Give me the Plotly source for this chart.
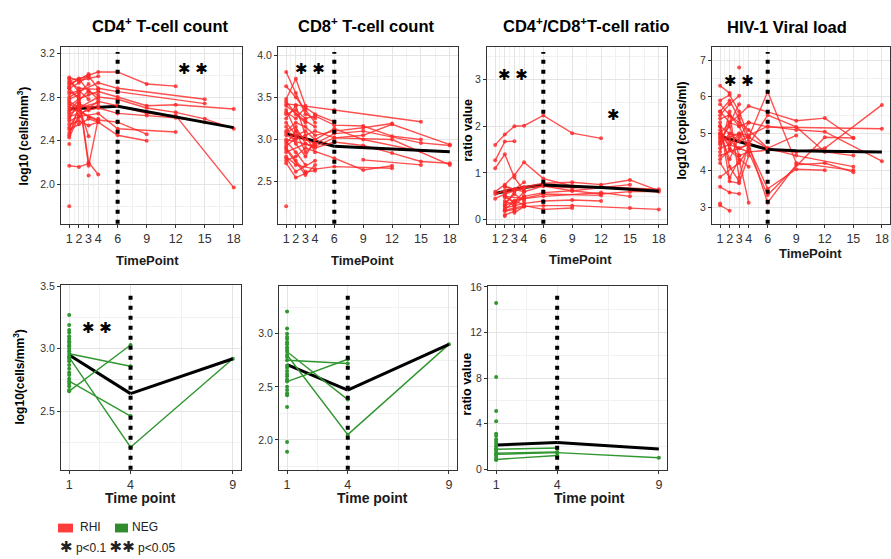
import plotly.graph_objects as go

# ---------------------------------------------------------------- data
# Top row: RHI group, one list per subject (time points in months)
cd4_rhi_t = [
    [1, 2, 3, 4, 6, 9, 12], [1, 2, 4, 6, 15], [1, 3, 4, 6, 15],
    [1, 2, 3, 4, 6, 9, 12, 18], [1, 2, 4, 6, 9, 12, 15, 18], [1, 2, 3, 4, 6, 9, 12, 18],
    [1, 3, 4, 6, 9, 12, 15], [1, 2, 4, 6, 12], [1, 2, 3, 4, 6, 9], [1, 4, 6, 9],
    [1, 2, 3, 4], [1, 2, 3], [1, 2, 3, 4], [1, 2, 3, 4], [1, 2, 3], [1, 2, 3, 4],
    [1, 2, 4], [1, 3, 4], [1, 2], [1, 2, 3], [1], [1], [3], [1, 2, 3, 4],
    [1, 2, 3, 4], [1, 2, 3], [1, 2, 4], [1, 2], [1, 2], [1, 3, 4], [1, 2, 3], [1, 2],
]
cd4_rhi_v = [
    [2.88, 2.93, 3.00, 3.03, 3.03, 2.92, 2.90], [2.80, 2.85, 2.93, 2.88, 2.78],
    [2.95, 2.99, 2.88, 2.85, 2.74], [2.72, 2.78, 2.82, 2.85, 2.80, 2.72, 2.73, 2.69],
    [2.76, 2.70, 2.80, 2.78, 2.70, 2.66, 2.60, 2.51], [2.66, 2.74, 2.70, 2.76, 2.72, 2.65, 2.63, 1.97],
    [2.62, 2.68, 2.70, 2.65, 2.63, 2.61, 2.57], [2.58, 2.62, 2.65, 2.51, 2.48],
    [2.50, 2.55, 2.60, 2.57, 2.45, 2.40], [2.70, 2.59, 2.57, 2.46],
    [2.98, 2.95, 2.97, 2.99], [2.17, 2.16, 2.19], [2.85, 2.80, 2.17, 2.60],
    [2.78, 2.82, 2.20, 2.09], [2.45, 2.72, 2.44], [2.90, 2.97, 2.85, 2.82],
    [2.93, 2.88, 2.87], [2.68, 2.86, 2.78], [2.60, 2.75], [2.83, 2.86, 2.78],
    [1.80], [2.37], [2.08], [2.47, 2.63, 2.70, 2.72], [2.55, 2.58, 2.54, 2.57],
    [2.92, 2.96, 3.01], [2.64, 2.70, 2.75], [2.88, 2.78], [2.52, 2.68],
    [2.74, 2.62, 2.58], [2.97, 2.84, 2.92], [2.43, 2.62],
]
cd4_mean_t = [1, 2, 3, 4, 6, 9, 12, 15, 18]
cd4_mean_v = [2.69, 2.695, 2.70, 2.705, 2.715, 2.665, 2.615, 2.57, 2.52]

cd8_rhi_t = [
    [1, 2, 6, 15], [1, 2, 3, 4, 6, 9, 12], [1, 2, 3, 4, 6, 9, 12, 15],
    [1, 2, 4, 6, 9, 12, 18], [1, 2, 3, 4, 6, 9, 15, 18], [1, 3, 4, 6, 9, 12, 15, 18],
    [1, 2, 4, 6, 12], [1, 2, 3, 6, 9, 12], [1, 2, 3, 4, 6, 9, 15], [1, 4, 6, 12, 18],
    [9, 15], [1, 2, 3, 4], [1, 2, 3], [1, 2, 3, 4], [1, 2, 3], [1, 2, 3, 4],
    [1, 2, 3, 4], [1, 2, 3, 4], [1, 2, 3], [1], [1, 2, 3, 4], [1, 2, 3],
    [1, 2, 4], [1, 2, 3, 4, 6], [1, 3, 4], [1, 2, 3], [1, 2], [1, 3, 4],
]
cd8_rhi_v = [
    [3.42, 3.41, 3.35, 3.21], [3.10, 3.20, 3.15, 3.05, 3.10, 3.14, 3.19],
    [3.30, 3.35, 3.25, 3.28, 3.17, 3.16, 3.04, 3.00], [3.05, 3.00, 3.10, 3.02, 3.05, 3.18, 2.94],
    [2.95, 3.10, 3.00, 2.95, 3.07, 3.10, 2.96, 2.93], [2.85, 2.95, 2.90, 2.97, 2.93, 2.84, 2.74, 2.72],
    [2.80, 2.70, 2.65, 2.68, 2.66], [2.75, 2.80, 2.90, 2.78, 2.64, 2.69],
    [3.20, 3.05, 3.10, 3.00, 3.13, 3.00, 2.86], [3.00, 2.92, 3.02, 3.00, 2.70],
    [2.76, 2.70], [3.80, 3.55, 3.30, 3.25], [3.48, 3.72, 3.40], [3.63, 3.50, 3.35, 3.20],
    [2.72, 2.55, 2.60], [2.90, 2.75, 2.62, 2.63], [3.25, 3.40, 3.05, 2.85],
    [3.35, 3.10, 2.85, 2.95], [2.98, 2.85, 2.70], [2.21], [3.15, 2.95, 2.80, 3.00],
    [3.45, 3.30, 3.20], [2.78, 2.62, 2.75], [3.32, 3.25, 3.38, 3.30, 3.21],
    [2.88, 2.58, 2.70], [3.08, 3.15, 2.95], [2.92, 3.02], [3.40, 3.22, 3.15],
]
cd8_mean_t = [1, 2, 3, 4, 6, 9, 12, 15, 18]
cd8_mean_v = [3.07, 3.04, 3.01, 2.98, 2.92, 2.905, 2.89, 2.875, 2.855]

ratio_rhi_t = [
    [1, 2, 3, 4, 6, 9, 12], [1, 2, 3], [1, 2, 3, 4], [1, 2, 3, 4, 6, 9],
    [1, 2, 4, 6, 9, 12, 15, 18], [1, 2, 3, 4, 6, 9, 15], [1, 3, 4, 6, 9, 12, 15, 18],
    [1, 2, 4, 6, 9, 12, 18], [1, 2, 3, 4, 6, 12, 15], [1, 2, 3, 4, 6, 9, 12],
    [1, 2, 3, 4, 6, 9, 15, 18], [1, 2, 4, 6, 12], [1, 2, 3, 4, 6, 9],
    [1, 2, 3, 4], [1, 2, 3, 4], [1, 2, 3], [1, 2, 3, 4], [1, 2, 4], [1, 3, 4],
    [1, 2, 3, 4], [1], [1, 2], [1, 2, 3], [1, 2, 3, 4], [1, 2, 3],
]
ratio_rhi_v = [
    [1.60, 1.82, 2.00, 2.01, 2.23, 1.85, 1.74], [1.27, 1.67, 1.68], [1.10, 1.40, 0.90, 0.62],
    [0.60, 0.75, 0.95, 1.23, 0.88, 0.72], [0.55, 0.62, 0.70, 0.78, 0.80, 0.75, 0.85, 0.62],
    [0.45, 0.55, 0.62, 0.68, 0.72, 0.62, 0.75, 0.58], [0.38, 0.50, 0.58, 0.62, 0.55, 0.60, 0.60, 0.55],
    [0.70, 0.60, 0.72, 0.68, 0.70, 0.65, 0.58], [0.30, 0.40, 0.45, 0.50, 0.58, 0.50, 0.65],
    [0.25, 0.30, 0.35, 0.40, 0.42, 0.40, 0.30], [0.18, 0.22, 0.28, 0.30, 0.30, 0.25, 0.22, 0.18],
    [0.50, 0.45, 0.55, 0.52, 0.45], [0.20, 0.25, 0.30, 0.22, 0.25, 0.35],
    [0.72, 0.65, 0.80, 0.88], [0.35, 0.55, 0.40, 0.45], [0.10, 0.18, 0.25],
    [0.40, 0.30, 0.50, 0.60], [0.58, 0.68, 0.72], [0.15, 0.28, 0.20], [0.48, 0.38, 0.60, 0.78],
    [3.33], [0.08, 0.15], [0.30, 0.60, 0.85], [0.22, 0.40, 0.32, 0.55], [0.52, 0.35, 0.45],
]
ratio_mean_t = [1, 2, 3, 4, 6, 9, 12, 15, 18]
ratio_mean_v = [0.56, 0.61, 0.65, 0.69, 0.74, 0.72, 0.69, 0.65, 0.61]

vl_rhi_t = [
    [1, 2, 3, 4, 9, 12, 15], [1, 2, 3, 4, 6, 9, 12, 18], [1, 2, 3, 4, 6, 18],
    [1, 2, 4, 6, 9, 12, 18], [1, 2, 3, 4, 6, 9, 15], [1, 3, 4, 6, 9, 12, 15],
    [1, 2, 3, 4, 6, 9, 12, 15], [1, 2, 3, 6, 9, 12], [1, 2, 4, 6, 9, 15],
    [1, 2, 3, 4, 6, 9], [1, 2, 3, 4, 6, 12, 15], [1, 2], [1, 2, 3], [1, 2],
    [1, 2, 3], [1, 2, 3, 4], [1, 2, 3, 4], [1, 2, 3, 4], [1, 2, 3, 4], [1, 3, 4],
    [1, 2, 3, 4], [1, 2, 3], [1, 2, 3, 4], [1], [1, 2, 4], [1, 2, 3], [1, 2, 3, 4],
    [1, 3], [3],
]
vl_rhi_v = [
    [5.00, 5.30, 5.50, 5.75, 5.35, 5.42, 4.88], [4.80, 4.90, 5.00, 4.95, 5.20, 5.10, 5.05, 4.25],
    [5.40, 5.50, 5.20, 5.30, 5.18, 5.13], [4.60, 4.70, 4.50, 4.55, 4.50, 4.60, 5.78],
    [5.20, 5.00, 4.80, 4.90, 4.60, 4.40, 4.10], [4.40, 4.60, 4.70, 5.50, 5.18, 4.50, 4.40],
    [4.90, 4.80, 4.60, 4.70, 3.12, 4.15, 4.20, 3.95], [5.60, 5.30, 5.20, 3.50, 4.03, 4.00],
    [4.70, 5.00, 4.90, 6.14, 4.20, 4.00], [5.80, 5.50, 5.30, 5.10, 4.60, 4.95],
    [5.10, 4.60, 4.40, 4.50, 3.33, 4.90, 4.88], [6.30, 6.10], [5.50, 5.80, 6.03],
    [3.05, 2.90], [3.55, 3.40, 3.36], [5.30, 3.70, 3.65, 4.40], [4.20, 3.80, 4.30, 3.12],
    [5.90, 6.05, 5.60, 4.90], [4.50, 5.60, 3.80, 4.70], [3.82, 4.20, 4.60],
    [5.00, 4.30, 4.90, 5.30], [4.85, 5.20, 4.40], [5.60, 5.90, 5.40, 4.80], [3.10],
    [4.30, 4.55, 4.10], [5.20, 4.10, 3.70], [4.95, 4.70, 5.00, 4.60], [4.75, 5.80], [6.80],
]
vl_mean_t = [1, 2, 3, 4, 6, 9, 12, 15, 18]
vl_mean_v = [4.92, 4.85, 4.77, 4.69, 4.57, 4.53, 4.52, 4.50, 4.50]

# Bottom row: NEG group, baseline-only values plus subjects with follow-up
cd4_neg_base = [3.27, 3.19, 3.15, 3.13, 3.10, 3.08, 3.06, 3.05, 3.03, 3.02, 3.00, 2.98,
                2.94, 2.92, 2.90, 2.87, 2.84, 2.81, 2.79, 2.76, 2.72, 2.70, 2.67]
cd4_neg_t = [[1, 4], [1, 4], [1, 4], [1, 4, 9]]
cd4_neg_v = [[2.96, 2.86], [2.66, 3.03], [2.74, 2.46], [2.93, 2.21, 2.92]]
cd4_neg_mean_t = [1, 4, 9]
cd4_neg_mean_v = [2.95, 2.64, 2.92]

cd8_neg_base = [3.21, 3.05, 3.00, 2.97, 2.95, 2.92, 2.90, 2.87, 2.85, 2.78, 2.70,
                2.68, 2.65, 2.62, 2.60, 2.57, 2.50, 2.47, 2.44, 2.42, 2.31, 1.98, 1.89]
cd8_neg_t = [[1, 4], [1, 4], [1, 4], [1, 4, 9]]
cd8_neg_v = [[2.83, 2.38], [2.75, 2.72], [2.55, 2.76], [2.80, 2.05, 2.90]]
cd8_neg_mean_t = [1, 4, 9]
cd8_neg_mean_v = [2.71, 2.47, 2.90]

ratio_neg_base = [14.6, 8.1, 5.1, 4.2, 3.1, 2.9, 2.6, 2.4, 2.2, 2.0, 1.8, 1.6,
                  1.2, 1.0, 0.8]
ratio_neg_t = [[1, 4], [1, 4], [1, 4], [1, 4, 9]]
ratio_neg_v = [[1.75, 1.85], [1.40, 1.50], [0.85, 1.20], [1.30, 1.45, 1.00]]
ratio_neg_mean_t = [1, 4, 9]
ratio_neg_mean_v = [2.12, 2.33, 1.77]

TOP_TICKS = [1, 2, 3, 4, 6, 9, 12, 15, 18]
TOP_MINOR = [1.5, 2.5, 3.5, 5, 7.5, 10.5, 13.5, 16.5]
BOT_TICKS = [1, 4, 9]
BOT_MINOR = [2.5, 6.5]
TOP_CUT = 6      # vertical reference line, top row
BOT_CUT = 4      # vertical reference line, bottom row

# ---------------------------------------------------------------- style
W, H = 891, 559
RED = "rgba(255,40,40,0.82)"
GREEN = "rgb(48,150,48)"
FONT = "Liberation Sans, Arial, sans-serif"
TXT = "#333333"

fig = go.Figure()


def join_subjects(ts, vs):
    xs, ys = [], []
    for t, v in zip(ts, vs):
        xs += list(t) + [None]
        ys += list(v) + [None]
    return xs, ys


def add_group(idx, ts, vs, color, mean_t, mean_v, cut, base=None):
    ax = "" if idx == 1 else str(idx)
    xr, yr = "x" + ax, "y" + ax
    # mean curve part before the cut sits below the subject lines
    pre = [i for i, t in enumerate(mean_t) if t <= cut]
    post = [i for i, t in enumerate(mean_t) if t >= cut]
    fig.add_trace(go.Scatter(x=[mean_t[i] for i in pre], y=[mean_v[i] for i in pre],
                             mode="lines", line=dict(color="black", width=3),
                             xaxis=xr, yaxis=yr, showlegend=False, hoverinfo="skip"))
    if base is not None:
        fig.add_trace(go.Scatter(x=[1] * len(base), y=base, mode="markers",
                                 marker=dict(color=color, size=4),
                                 xaxis=xr, yaxis=yr, showlegend=False))
    xs, ys = join_subjects(ts, vs)
    fig.add_trace(go.Scatter(x=xs, y=ys, mode="lines+markers",
                             line=dict(color=color, width=1.4),
                             marker=dict(color=color, size=4),
                             connectgaps=False, xaxis=xr, yaxis=yr, showlegend=False))
    fig.add_trace(go.Scatter(x=[mean_t[i] for i in post], y=[mean_v[i] for i in post],
                             mode="lines", line=dict(color="black", width=3),
                             xaxis=xr, yaxis=yr, showlegend=False, hoverinfo="skip"))
    fig.add_shape(type="line", xref=xr, yref=yr + " domain", x0=cut, x1=cut,
                  y0=0, y1=0.972, line=dict(color="black", width=4, dash="4px,6px"))


add_group(1, cd4_rhi_t, cd4_rhi_v, RED, cd4_mean_t, cd4_mean_v, TOP_CUT)
add_group(2, cd8_rhi_t, cd8_rhi_v, RED, cd8_mean_t, cd8_mean_v, TOP_CUT)
add_group(3, ratio_rhi_t, ratio_rhi_v, RED, ratio_mean_t, ratio_mean_v, TOP_CUT)
add_group(4, vl_rhi_t, vl_rhi_v, RED, vl_mean_t, vl_mean_v, TOP_CUT)
add_group(5, cd4_neg_t, cd4_neg_v, GREEN, cd4_neg_mean_t, cd4_neg_mean_v, BOT_CUT, cd4_neg_base)
add_group(6, cd8_neg_t, cd8_neg_v, GREEN, cd8_neg_mean_t, cd8_neg_mean_v, BOT_CUT, cd8_neg_base)
add_group(7, ratio_neg_t, ratio_neg_v, GREEN, ratio_neg_mean_t, ratio_neg_mean_v, BOT_CUT, ratio_neg_base)


def px_dom_x(a, b):
    return [a / W, b / W]


def px_dom_y(top, bottom):
    return [1 - bottom / H, 1 - top / H]


def axis(dom, rng, ticks, minor, size, labels=None, anchor=None):
    d = dict(domain=dom, range=rng, tickmode="array", tickvals=ticks,
             ticktext=labels if labels is not None else [str(t) for t in ticks],
             showgrid=True, gridcolor="#E4E4E4", gridwidth=1,
             minor=dict(tickvals=minor, showgrid=True, gridcolor="#F1F1F1",
                        gridwidth=1, ticks=""),
             showline=True, mirror=True, linecolor="#333333", linewidth=1,
             ticks="outside", ticklen=3, tickcolor="#333333", tickwidth=1,
             tickfont=dict(family=FONT, size=size, color=TXT),
             zeroline=False, anchor=anchor, fixedrange=True)
    return d


panels = [
    # (x px, y px, x range, y range, y ticks, y labels, y minor)
    ((61, 242), (42, 222), [0.15, 18.85], [1.64, 3.257], [2.0, 2.4, 2.8, 3.2],
     ["2.0", "2.4", "2.8", "3.2"], [1.8, 2.2, 2.6, 3.0]),
    ((278, 458), (42, 222), [0.15, 18.85], [2.005, 4.093], [2.5, 3.0, 3.5, 4.0],
     ["2.5", "3.0", "3.5", "4.0"], [2.25, 2.75, 3.25, 3.75]),
    ((487, 667), (42, 222), [0.15, 18.85], [-0.084, 3.69], [0, 1, 2, 3],
     ["0", "1", "2", "3"], [0.5, 1.5, 2.5, 3.5]),
    ((712, 890), (42, 222), [0.15, 18.85], [2.55, 7.35], [3, 4, 5, 6, 7],
     ["3", "4", "5", "6", "7"], [3.5, 4.5, 5.5, 6.5]),
    ((61, 241), (285, 473), [0.6, 9.4], [2.03, 3.508], [2.5, 3.0, 3.5],
     ["2.5", "3.0", "3.5"], [2.25, 2.75, 3.25]),
    ((279, 457), (286, 473), [0.6, 9.4], [1.72, 3.446], [2.0, 2.5, 3.0],
     ["2.0", "2.5", "3.0"], [1.75, 2.25, 2.75, 3.25]),
    ((488, 667), (286, 473), [0.6, 9.4], [-0.05, 16.05], [0, 4, 8, 12, 16],
     ["0", "4", "8", "12", "16"], [2, 6, 10, 14]),
]

layout = dict(width=W, height=H, margin=dict(l=0, r=0, t=0, b=0),
              paper_bgcolor="white", plot_bgcolor="white", showlegend=False)
for i, (xp, yp, xr, yr, yt, yl, ym) in enumerate(panels, start=1):
    s = "" if i == 1 else str(i)
    top = i <= 4
    layout["xaxis" + s] = axis(px_dom_x(*xp), xr, TOP_TICKS if top else BOT_TICKS,
                               TOP_MINOR if top else BOT_MINOR, 12.5, anchor="y" + s)
    layout["yaxis" + s] = axis(px_dom_y(*yp), yr, yt, ym, 10.5, labels=yl, anchor="x" + s)
fig.update_layout(**layout)


def note(x, y, text, size, bold=False, angle=0, color="black", family=FONT,
         xanchor="center"):
    fig.add_annotation(xref="paper", yref="paper", x=x / W, y=1 - y / H,
                       text=f"<b>{text}</b>" if bold else text, showarrow=False,
                       textangle=angle, xanchor=xanchor, yanchor="middle",
                       font=dict(family=family, size=size, color=color))


# panel titles
note(160, 19, "CD4<sup>+</sup> T-cell count", 16.5, bold=True)
note(366, 19, "CD8<sup>+</sup> T-cell count", 16.5, bold=True)
note(586, 19, "CD4<sup>+</sup>/CD8<sup>+</sup>T-cell ratio", 16.5, bold=True)
note(787, 21, "HIV-1 Viral load", 16.5, bold=True)

# axis titles
for x, y in [(147, 260), (362, 260), (580, 259), (810, 252)]:
    note(x, y, "TimePoint", 13, bold=True, color="#1a1a1a")
for x in (140, 372, 589):
    note(x, 502, "Time point", 14, bold=True, color="#1a1a1a")
note(23, 133, "log10 (cells/mm<sup>3</sup>)", 12, bold=True, angle=-90)
note(468, 127, "ratio value", 12.5, bold=True, angle=-90)
note(682, 127, "log10 (copies/ml)", 12, bold=True, angle=-90)
note(19, 379, "log10(cells/mm<sup>3</sup>)", 12, bold=True, angle=-90)
note(467, 385, "ratio value", 12.5, bold=True, angle=-90)

# significance marks
STAR = "DejaVu Sans"
note(193, 64, "✱ ✱", 15, family=STAR)
note(310, 64, "✱ ✱", 15, family=STAR)
note(513, 70, "✱ ✱", 15, family=STAR)
note(613, 111, "✱", 15, family=STAR)
note(739, 77, "✱ ✱", 15, family=STAR)
note(97, 328, "✱ ✱", 15, family=STAR)

# key
fig.add_shape(type="rect", xref="paper", yref="paper", x0=58 / W, x1=73 / W,
              y0=1 - 537 / H, y1=1 - 528 / H, fillcolor="#FF3B3B", line_width=0)
fig.add_shape(type="rect", xref="paper", yref="paper", x0=115 / W, x1=128 / W,
              y0=1 - 537 / H, y1=1 - 528 / H, fillcolor="#2E8B2E", line_width=0)
note(78, 531, "RHI", 12, xanchor="left", color="#222222")
note(130, 531, "NEG", 12, xanchor="left", color="#222222")
note(58, 552,
     f"<span style='font-family:{STAR};font-size:15px'>✱</span> p&lt;0.1 "
     f"<span style='font-family:{STAR};font-size:15px'>✱✱</span> p&lt;0.05",
     12, xanchor="left", color="#222222")

fig.write_html("out.html")
